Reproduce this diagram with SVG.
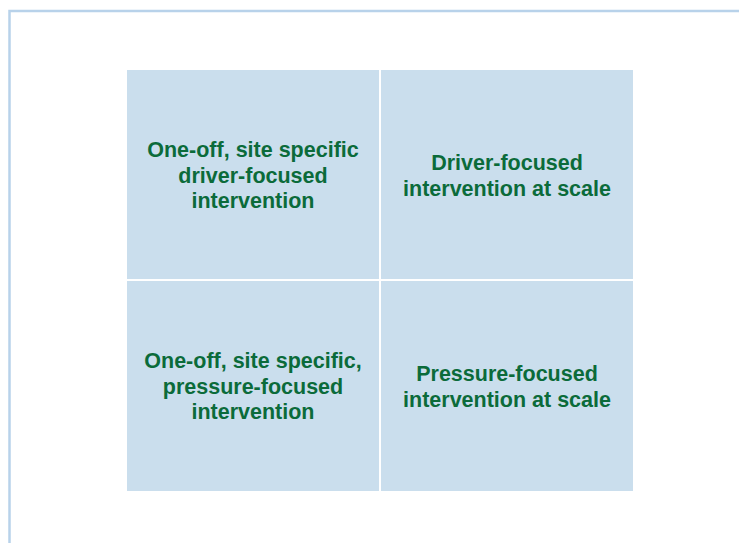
<svg xmlns="http://www.w3.org/2000/svg" width="739" height="543" viewBox="0 0 739 543">
  <style>
    .cell { fill: #cadeed; }
    .lbl { font-family: "Liberation Sans", Arial, sans-serif; font-weight: bold; font-size: 21.5px; fill: #0b6b3a; text-anchor: middle; }
  </style>
  <rect width="739" height="543" fill="#ffffff"/>
  <!-- outer frame, open at right and bottom -->
  <path d="M9.5 543 V11 H739" fill="none" stroke="#b8d2ea" stroke-width="2.5"/>
  <g id="cell-top-left">
    <rect class="cell" x="127" y="70" width="252" height="209"/>
    <text class="lbl" x="253" y="157">One-off, site specific</text>
    <text class="lbl" x="253" y="182.5">driver-focused</text>
    <text class="lbl" x="253" y="208">intervention</text>
  </g>
  <g id="cell-top-right">
    <rect class="cell" x="381" y="70" width="252" height="209"/>
    <text class="lbl" x="507" y="170">Driver-focused</text>
    <text class="lbl" x="507" y="195.5">intervention at scale</text>
  </g>
  <g id="cell-bottom-left">
    <rect class="cell" x="127" y="281" width="252" height="210"/>
    <text class="lbl" x="253" y="368">One-off, site specific,</text>
    <text class="lbl" x="253" y="393.5">pressure-focused</text>
    <text class="lbl" x="253" y="419">intervention</text>
  </g>
  <g id="cell-bottom-right">
    <rect class="cell" x="381" y="281" width="252" height="210"/>
    <text class="lbl" x="507" y="381">Pressure-focused</text>
    <text class="lbl" x="507" y="406.5">intervention at scale</text>
  </g>
</svg>
